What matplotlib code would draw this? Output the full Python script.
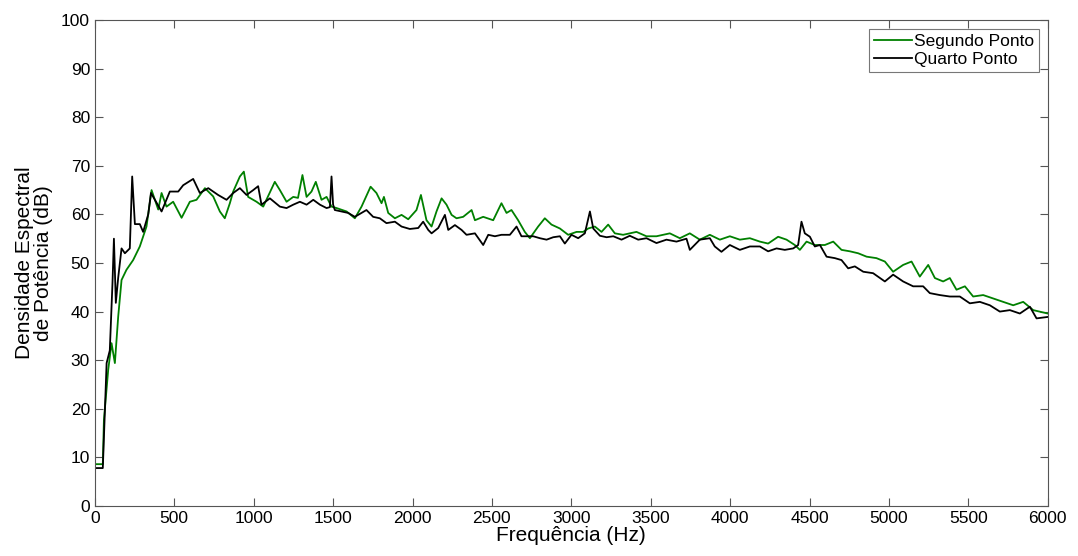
import numpy as np
import matplotlib
matplotlib.use('Agg')
import matplotlib.pyplot as plt

plt.rcParams['font.family'] = ['Liberation Sans', 'DejaVu Sans']

# frequencias (Hz) e niveis (dB)
freq_seg = [0, 50, 57, 84, 105, 126, 147, 168, 199, 241, 283, 325, 357, 399, 420, 451, 493, 546,
            598, 640, 693, 745, 787, 818, 850, 871, 913, 938, 965, 1018, 1060, 1133, 1165, 1207,
            1249, 1279, 1307, 1333, 1364, 1391, 1427, 1459, 1490, 1522, 1585, 1637, 1679, 1736,
            1773, 1805, 1820, 1847, 1889, 1931, 1973, 2025, 2053, 2088, 2120, 2151, 2183, 2214,
            2246, 2277, 2319, 2372, 2393, 2445, 2508, 2560, 2592, 2623, 2665, 2707, 2739, 2791,
            2833, 2875, 2928, 2980, 3033, 3075, 3106, 3148, 3190, 3232, 3274, 3326, 3410, 3473,
            3536, 3620, 3683, 3746, 3809, 3872, 3935, 3998, 4061, 4124, 4187, 4239, 4302, 4355,
            4407, 4439, 4481, 4533, 4596, 4649, 4701, 4754, 4806, 4859, 4921, 4974, 5026, 5089,
            5142, 5194, 5247, 5289, 5341, 5383, 5425, 5478, 5530, 5593, 5656, 5719, 5782, 5845,
            5908, 6000]
psd_seg = [8.6, 8.6, 17.7, 28.0, 33.5, 29.4, 39.0, 46.5, 48.6, 50.6, 53.4, 57.5, 65.0, 61.0, 64.4,
           61.6, 62.6, 59.3, 62.6, 63.0, 65.4, 63.7, 60.6, 59.2, 62.3, 64.7, 67.8, 68.8, 63.6,
           62.6, 61.6, 66.7, 65.0, 62.6, 63.6, 63.4, 68.1, 63.6, 64.7, 66.7, 63.0, 63.6, 61.6,
           61.3, 60.6, 59.2, 61.6, 65.7, 64.4, 62.3, 63.6, 60.3, 59.2, 59.9, 59.0, 60.9, 64.0,
           58.8, 57.5, 60.6, 63.3, 62.0, 59.9, 59.2, 59.5, 60.9, 58.8, 59.5, 58.8, 62.3, 60.3,
           60.9, 58.8, 56.4, 55.1, 57.5, 59.2, 57.9, 57.1, 55.8, 56.4, 56.4, 57.1, 57.5, 56.4,
           57.9, 56.1, 55.8, 56.4, 55.5, 55.5, 56.1, 55.1, 56.1, 54.8, 55.8, 54.8, 55.5, 54.8,
           55.1, 54.4, 54.0, 55.4, 54.8, 53.7, 52.7, 54.4, 53.7, 53.7, 54.4, 52.7, 52.4, 52.0,
           51.3, 51.0, 50.3, 48.2, 49.6, 50.3, 47.2, 49.6, 46.9, 46.2, 46.9, 44.5, 45.2, 43.1,
           43.4, 42.7, 42.0, 41.3, 42.0, 40.3, 39.6]

freq_qua = [0, 50, 74, 94, 111, 120, 132, 147, 168, 189, 220, 235, 252, 283, 304, 336, 353, 378,
            420, 472, 525, 556, 619, 661, 714, 776, 829, 871, 913, 955, 997, 1028, 1049, 1102,
            1165, 1207, 1249, 1291, 1333, 1375, 1417, 1459, 1480, 1490, 1500, 1511, 1553, 1595,
            1637, 1679, 1710, 1752, 1794, 1836, 1889, 1931, 1983, 2036, 2067, 2099, 2120, 2162,
            2204, 2225, 2267, 2309, 2340, 2393, 2445, 2477, 2519, 2560, 2613, 2655, 2686, 2728,
            2760, 2802, 2844, 2886, 2928, 2959, 3001, 3043, 3085, 3117, 3138, 3180, 3222, 3264,
            3316, 3368, 3421, 3473, 3536, 3599, 3662, 3725, 3746, 3809, 3872, 3903, 3945, 3998,
            4061, 4124, 4187, 4239, 4292, 4344, 4397, 4428, 4449, 4470, 4502, 4533, 4565, 4607,
            4659, 4701, 4743, 4785, 4838, 4900, 4974, 5026, 5089, 5152, 5215, 5257, 5320, 5383,
            5446, 5509, 5572, 5635, 5698, 5761, 5824, 5887, 5929, 6000]
psd_qua = [7.8, 7.8, 29.4, 32.0, 45.9, 55.0, 41.8, 47.0, 53.0, 52.0, 53.0, 67.8, 58.0, 58.0,
           56.4, 60.0, 64.4, 63.0, 60.6, 64.7, 64.7, 66.0, 67.3, 64.4, 65.4, 64.0, 63.0, 64.4,
           65.4, 64.0, 65.0, 65.8, 62.0, 63.3, 61.6, 61.3, 62.0, 62.6, 62.0, 63.0, 62.0, 61.3,
           61.5, 67.8, 62.0, 60.9, 60.6, 60.3, 59.5, 60.3, 60.9, 59.5, 59.2, 58.2, 58.5, 57.5,
           57.0, 57.2, 58.5, 56.8, 56.1, 57.2, 59.9, 56.8, 57.8, 56.8, 55.8, 56.1, 53.7, 55.8,
           55.5, 55.8, 55.8, 57.5, 55.5, 55.5, 55.5, 55.1, 54.8, 55.3, 55.5, 54.0, 55.8, 55.1,
           56.1, 60.6, 57.1, 55.6, 55.3, 55.5, 54.8, 55.6, 54.8, 55.1, 54.1, 54.8, 54.4, 55.0,
           52.7, 54.8, 55.1, 53.4, 52.3, 53.7, 52.7, 53.4, 53.4, 52.4, 53.0, 52.7, 53.0, 53.7,
           58.5, 56.1, 55.4, 53.4, 53.7, 51.3, 51.0, 50.6, 48.9, 49.3, 48.2, 47.9, 46.2, 47.6,
           46.2, 45.2, 45.2, 43.8, 43.4, 43.1, 43.1, 41.7, 42.0, 41.3, 40.0, 40.3, 39.6, 41.0,
           38.6, 38.9]

fig = plt.figure(figsize=(10.78, 5.56), dpi=100)
ax = fig.add_axes([0.088, 0.09, 0.884, 0.874])

ax.plot(freq_seg, psd_seg, color='#008000', lw=1.3, label='Segundo Ponto')
ax.plot(freq_qua, psd_qua, color='black', lw=1.3, label='Quarto Ponto')

ax.set_xlim(0, 6000)
ax.set_ylim(0, 100)
ax.set_xticks(np.arange(0, 6001, 500))
ax.set_yticks(np.arange(0, 101, 10))
ax.tick_params(direction='in', top=True, right=True, labelsize=12.5, length=6, color='#555555')
for s in ax.spines.values():
    s.set_color('#555555')

ax.set_xlabel('Frequência (Hz)', fontsize=15, labelpad=0)
ax.set_ylabel('Densidade Espectral\nde Potência (dB)', fontsize=15, labelpad=6, linespacing=1.0)

leg = ax.legend(loc='upper right', fontsize=12.5, frameon=True, fancybox=False,
                edgecolor='#555555', handlelength=2.2, handletextpad=0.1,
                borderaxespad=0.5, labelspacing=0.15, borderpad=0.3)
leg.get_frame().set_linewidth(0.8)

fig.savefig('out.png', dpi=100)
